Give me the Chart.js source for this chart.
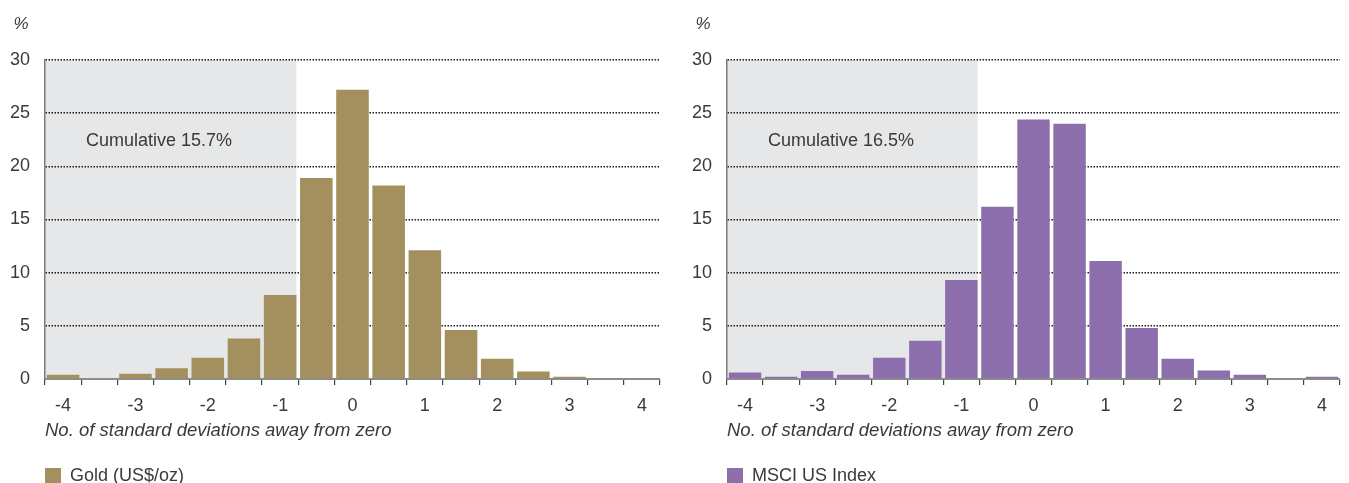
<!DOCTYPE html>
<html>
<head>
<meta charset="utf-8">
<script src="https://cdn.jsdelivr.net/npm/chart.js@4.4.1/dist/chart.umd.min.js"></script>
<style>
  body { margin: 0; background: #fff; }
  .panel { position: absolute; top: 0; height: 483px; }
</style>
</head>
<body>
<div class="panel" style="left:0;width:675px"><canvas id="gold-canvas" width="675" height="483"></canvas></div>
<div class="panel" style="left:680px;width:669px"><canvas id="msci-canvas" width="669" height="483"></canvas></div>
<script>
// standard deviation buckets
var categories = ['-4', '-3.5', '-3', '-2.5', '-2', '-1.5', '-1', '-0.5', '0', '0.5', '1', '1.5', '2', '2.5', '3', '3.5', '4'];
// % of observations in each bucket
var goldValues = [0.4, 0.1, 0.5, 1.0, 2.0, 3.8, 7.9, 18.9, 27.2, 18.2, 12.1, 4.6, 1.9, 0.7, 0.2, 0.1, 0.1];
var msciValues = [0.6, 0.2, 0.75, 0.4, 2.0, 3.6, 9.3, 16.2, 24.4, 24.0, 11.1, 4.8, 1.9, 0.8, 0.4, 0, 0.2];
var yTicks = [0, 5, 10, 15, 20, 25, 30];
var goldNote = 'Cumulative 15.7%';
var msciNote = 'Cumulative 16.5%';

var textColor = '#3a3a3a';
var baseFont = '"Liberation Sans", Arial, sans-serif';

// grey box behind the left tail (up to the -1 bar) plus the notes
var tailPlugin = {
    id: 'tail',
    beforeDraw: function(chart) {
        var opts = chart.options.plugins.tail;
        var area = chart.chartArea;
        var meta = chart.getDatasetMeta(0);
        var bar = meta.data[opts.lastIndex];
        var right = bar.x + bar.width / 2;
        var ctx = chart.ctx;
        ctx.save();
        ctx.fillStyle = '#e6e7e9';
        ctx.fillRect(area.left, area.top, right - area.left, area.bottom - area.top);
        ctx.restore();
    },
    afterDraw: function(chart) {
        var opts = chart.options.plugins.tail;
        var area = chart.chartArea;
        var y = chart.scales.y;
        var ctx = chart.ctx;
        ctx.save();
        ctx.fillStyle = textColor;
        ctx.font = '18px ' + baseFont;
        ctx.textBaseline = 'middle';
        ctx.textAlign = 'left';
        ctx.fillText(opts.note, area.left + 41, y.getPixelForValue(22.4));
        ctx.font = 'italic 17px ' + baseFont;
        ctx.textAlign = 'center';
        ctx.fillText('%', area.left - 24, 24);
        ctx.restore();
    }
};

function makeChart(canvasId, label, values, colour, note, yWidth, padRight) {
    var ctx = document.getElementById(canvasId).getContext('2d');
    return new Chart(ctx, {
        type: 'bar',
        data: {
            labels: categories,
            datasets: [{
                label: label,
                data: values,
                backgroundColor: colour,
                borderWidth: 0,
                barPercentage: 0.9,
                categoryPercentage: 1.0
            }]
        },
        options: {
            responsive: false,
            animation: false,
            layout: { padding: { left: 0, right: padRight, top: 60, bottom: -12 } },
            plugins: {
                tooltip: { enabled: false },
                tail: { lastIndex: 6, note: note },
                legend: {
                    position: 'bottom',
                    align: 'start',
                    fullSize: false,
                    labels: {
                        boxWidth: 16,
                        boxHeight: 16,
                        padding: 0,
                        color: textColor,
                        font: { family: baseFont, size: 18 }
                    }
                }
            },
            scales: {
                x: {
                    offset: true,
                    afterFit: function(scale) { scale.height = 88; },
                    grid: {
                        offset: true,
                        drawOnChartArea: false,
                        drawTicks: true,
                        tickLength: 6,
                        color: '#444',
                        lineWidth: 1.2
                    },
                    border: { display: true, color: '#8c8c8c', width: 2 },
                    ticks: {
                        autoSkip: false,
                        maxRotation: 0,
                        padding: 10,
                        color: textColor,
                        font: { family: baseFont, size: 18 },
                        callback: function(val, idx) {
                            var c = categories[idx];
                            return Number.isInteger(Number(c)) ? c : '';
                        }
                    },
                    title: {
                        display: true,
                        align: 'start',
                        text: 'No. of standard deviations away from zero',
                        color: textColor,
                        font: { family: baseFont, size: 18.5, style: 'italic' },
                        padding: { top: 0, bottom: 25 }
                    }
                },
                y: {
                    min: yTicks[0],
                    max: yTicks[yTicks.length - 1],
                    afterFit: function(scale) { scale.width = yWidth; },
                    afterBuildTicks: function(scale) {
                        scale.ticks = yTicks.map(function(v) { return { value: v }; });
                    },
                    grid: {
                        drawTicks: false,
                        color: function(c) { return c.tick && c.tick.value === 0 ? 'rgba(0,0,0,0)' : '#1a1a1a'; },
                        lineWidth: 1.5
                    },
                    border: { display: true, color: '#7a7a7a', width: 1.5, dash: [1.5, 1.5] },
                    ticks: {
                        padding: 15,
                        color: textColor,
                        font: { family: baseFont, size: 18 }
                    }
                }
            }
        },
        plugins: [tailPlugin]
    });
}

makeChart('gold-canvas', 'Gold (US$/oz)', goldValues, '#a48f5f', goldNote, 45, 15);
makeChart('msci-canvas', 'MSCI US Index', msciValues, '#8e6fad', msciNote, 47, 9);
</script>
</body>
</html>
